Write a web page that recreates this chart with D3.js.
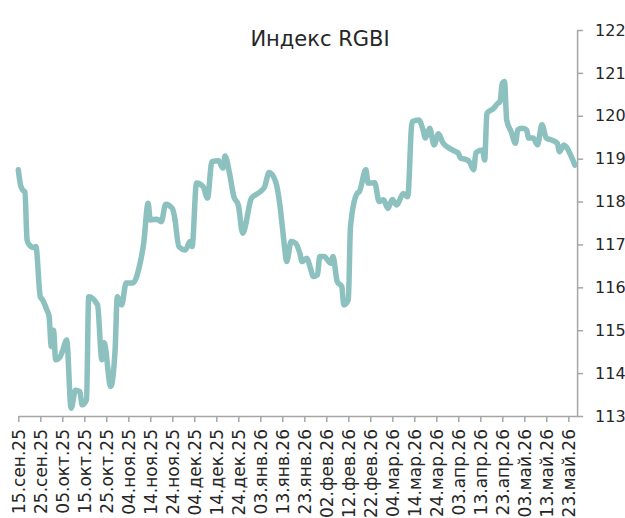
<!DOCTYPE html>
<html>
<head>
<meta charset="utf-8">
<script src="https://cdn.jsdelivr.net/npm/d3@7"></script>
<style>
  body { margin: 0; background: #fff; }
  svg { display: block; font-family: 'DejaVu Sans', sans-serif; }
</style>
</head>
<body>
<svg id="chart" width="625" height="518"></svg>
<script>
const title = 'Индекс RGBI';

const dates = [
  '2025-09-15', '2025-09-16', '2025-09-17', '2025-09-18', '2025-09-19', '2025-09-20', '2025-09-22', '2025-09-23',
  '2025-09-25', '2025-09-26', '2025-09-28', '2025-09-29', '2025-09-30', '2025-10-01', '2025-10-02', '2025-10-04',
  '2025-10-05', '2025-10-07', '2025-10-09', '2025-10-11', '2025-10-13', '2025-10-14', '2025-10-16', '2025-10-17',
  '2025-10-21', '2025-10-23', '2025-10-24', '2025-10-27', '2025-10-29', '2025-10-30', '2025-11-01', '2025-11-03',
  '2025-11-06', '2025-11-09', '2025-11-11', '2025-11-13', '2025-11-14', '2025-11-17', '2025-11-19', '2025-11-21',
  '2025-11-24', '2025-11-25', '2025-11-27', '2025-11-30', '2025-12-02', '2025-12-03', '2025-12-05', '2025-12-08',
  '2025-12-10', '2025-12-12', '2025-12-15', '2025-12-17', '2025-12-18', '2025-12-20', '2025-12-22', '2025-12-24',
  '2025-12-26', '2025-12-30', '2026-01-03', '2026-01-05', '2026-01-07', '2026-01-10', '2026-01-12', '2026-01-13',
  '2026-01-14', '2026-01-15', '2026-01-17', '2026-01-19', '2026-01-21', '2026-01-22', '2026-01-24', '2026-01-26',
  '2026-01-27', '2026-01-29', '2026-01-30', '2026-02-01', '2026-02-04', '2026-02-05', '2026-02-07', '2026-02-09',
  '2026-02-10', '2026-02-12', '2026-02-13', '2026-02-16', '2026-02-17', '2026-02-20', '2026-02-21', '2026-02-24',
  '2026-02-26', '2026-02-28', '2026-03-02', '2026-03-04', '2026-03-06', '2026-03-09', '2026-03-11', '2026-03-13',
  '2026-03-16', '2026-03-18', '2026-03-19', '2026-03-21', '2026-03-23', '2026-03-25', '2026-03-27', '2026-03-30',
  '2026-04-02', '2026-04-03', '2026-04-04', '2026-04-06', '2026-04-08', '2026-04-10', '2026-04-11', '2026-04-14',
  '2026-04-15', '2026-04-16', '2026-04-19', '2026-04-21', '2026-04-22', '2026-04-23', '2026-04-24', '2026-04-25',
  '2026-04-27', '2026-04-29', '2026-04-30', '2026-05-02', '2026-05-04', '2026-05-05', '2026-05-07', '2026-05-09',
  '2026-05-11', '2026-05-13', '2026-05-15', '2026-05-18', '2026-05-19', '2026-05-21', '2026-05-22', '2026-05-24',
  '2026-05-26'
];

const values = [
  118.74, 118.39, 118.27, 118.22, 117.10, 116.99, 116.93, 116.95,
  115.78, 115.71, 115.47, 115.32, 114.62, 115.00, 114.31, 114.38,
  114.50, 114.77, 113.18, 113.60, 113.57, 113.26, 113.38, 115.78,
  115.59, 114.31, 114.71, 113.69, 114.54, 115.78, 115.59, 116.10,
  116.10, 116.48, 117.03, 117.96, 117.57, 117.59, 117.53, 117.94,
  117.84, 117.65, 116.95, 116.87, 117.07, 116.95, 118.43, 118.35,
  118.08, 118.93, 118.95, 118.78, 119.06, 118.66, 118.11, 117.92,
  117.26, 118.08, 118.23, 118.35, 118.68, 118.46, 117.88, 117.42,
  116.95, 116.60, 117.07, 117.03, 116.79, 116.60, 116.68, 116.41,
  116.25, 116.29, 116.72, 116.72, 116.56, 116.72, 116.13, 116.02,
  115.59, 115.71, 117.42, 118.19, 118.23, 118.74, 118.43, 118.44,
  118.00, 118.04, 117.84, 118.05, 117.92, 118.19, 118.11, 119.86,
  119.90, 119.67, 119.48, 119.71, 119.32, 119.58, 119.37, 119.24,
  119.16, 119.13, 119.01, 118.99, 118.93, 118.74, 119.14, 119.20,
  118.97, 120.06, 120.17, 120.29, 120.33, 120.76, 120.80, 119.90,
  119.63, 119.36, 119.67, 119.71, 119.67, 119.48, 119.48, 119.32,
  119.79, 119.48, 119.44, 119.36, 119.16, 119.32, 119.28, 119.09,
  118.85
];

const xTickLabels = [
  '15.сен.25', '25.сен.25', '05.окт.25', '15.окт.25', '25.окт.25', '04.ноя.25', '14.ноя.25',
  '24.ноя.25', '04.дек.25', '14.дек.25', '24.дек.25', '03.янв.26', '13.янв.26', '23.янв.26',
  '02.фев.26', '12.фев.26', '22.фев.26', '04.мар.26', '14.мар.26', '24.мар.26', '03.апр.26',
  '13.апр.26', '23.апр.26', '03.май.26', '13.май.26', '23.май.26'
];

const yTicks = [113, 114, 115, 116, 117, 118, 119, 120, 121, 122];

const ruMonths = ['янв', 'фев', 'мар', 'апр', 'май', 'июн', 'июл', 'авг', 'сен', 'окт', 'ноя', 'дек'];

function drawChart() {
  const svg = d3.select('#chart');
  const parse = d3.utcParse('%Y-%m-%d');

  const points = dates.map((d, i) => ({ date: parse(d), value: values[i] }));

  const tickDates = xTickLabels.map((s) => {
    const [day, mon, yr] = s.split('.');
    return new Date(Date.UTC(2000 + +yr, ruMonths.indexOf(mon), +day));
  });

  const x = d3
    .scaleUtc()
    .domain([parse('2025-09-15'), parse('2026-05-27')])
    .range([18.3, 577.1]);

  const y = d3.scaleLinear().domain([113, 122]).range([416, 30]);

  // x axis
  const xAxis = svg
    .append('g')
    .attr('transform', 'translate(0, 416)')
    .call(
      d3
        .axisBottom(x)
        .tickValues(tickDates)
        .tickFormat((d, i) => xTickLabels[i])
        .tickSize(6)
        .tickSizeOuter(0)
    );

  xAxis.selectAll('path, line').attr('stroke', '#a6a6a6').attr('stroke-width', 1.5);
  xAxis
    .selectAll('text')
    .attr('transform', 'rotate(-90)')
    .attr('text-anchor', 'end')
    .attr('x', -13)
    .attr('y', 0)
    .attr('dy', '0.36em')
    .attr('font-size', 17)
    .attr('font-family', "'DejaVu Sans', sans-serif")
    .attr('fill', '#262626');

  // y axis on the right
  const yAxis = svg
    .append('g')
    .attr('transform', `translate(${x.range()[1]}, 0)`)
    .call(d3.axisRight(y).tickValues(yTicks).tickSize(6).tickSizeOuter(0).tickPadding(12));

  yAxis.selectAll('path, line').attr('stroke', '#a6a6a6').attr('stroke-width', 1.5);
  yAxis
    .selectAll('text')
    .attr('font-size', 16)
    .attr('font-family', "'DejaVu Sans', sans-serif")
    .attr('fill', '#262626');

  // line
  const line = d3
    .line()
    .x((d) => x(d.date))
    .y((d) => y(d.value))
    .curve(d3.curveMonotoneX);

  svg
    .append('path')
    .datum(points)
    .attr('d', line)
    .attr('fill', 'none')
    .attr('stroke', '#8cc1bf')
    .attr('stroke-width', 5.5)
    .attr('stroke-linejoin', 'round')
    .attr('stroke-linecap', 'round');

  svg
    .append('text')
    .text(title)
    .attr('x', 320)
    .attr('y', 46)
    .attr('text-anchor', 'middle')
    .attr('font-size', 21)
    .attr('fill', '#262626');
}

drawChart();
</script>
</body>
</html>
